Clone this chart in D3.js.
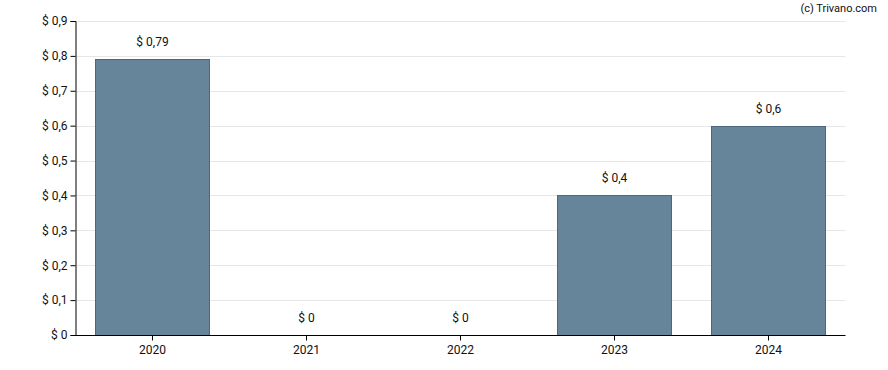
<!DOCTYPE html>
<html><head><meta charset="utf-8">
<script src="https://cdn.jsdelivr.net/npm/d3@7"></script>
<style>body{margin:0;background:#fff;} text{font-family:Roboto,"Noto Sans",sans-serif;}</style>
</head><body><svg id="c" width="888" height="370"></svg>
<script>
const years = ["2020","2021","2022","2023","2024"];
const values = [0.79, 0, 0, 0.4, 0.6];
const yTicks = [0,0.1,0.2,0.3,0.4,0.5,0.6,0.7,0.8,0.9];
const fmt = v => "$ " + String(v).replace(".", ",");

const svg = d3.select("#c");
const m = {l:75.5, r:845.5, t:21, b:335};
const x = d3.scaleBand().domain(years).range([m.l, m.r]).paddingInner(0.26).paddingOuter(0.13);
const y = d3.scaleLinear().domain([0,0.9]).range([m.b, m.t]);

svg.append("g").selectAll("line").data(yTicks.slice(1)).join("line")
  .attr("x1", m.l).attr("x2", m.r).attr("y1", d=>Math.round(y(d))+0.5).attr("y2", d=>Math.round(y(d))+0.5)
  .attr("stroke", "#e6e6e6").attr("stroke-width",1);

svg.append("g").selectAll("rect").data(values).join("rect")
  .attr("x", (d,i)=>Math.floor(x(years[i]))+0.5).attr("width", Math.round(x.bandwidth()))
  .attr("y", d=>Math.round(y(d))+0.5).attr("height", d=>Math.max(0, Math.round(y(0))-Math.round(y(d))))
  .attr("fill", "#66849a").attr("stroke", "#4b6880").attr("stroke-width",1)
  .style("display", d=>d>0?null:"none");

svg.append("g").selectAll("text").data(values).join("text")
  .attr("x", (d,i)=>x(years[i])+x.bandwidth()/2).attr("y", d=>y(d)-13)
  .attr("text-anchor","middle").attr("font-size",12).attr("fill","#111")
  .text(d=>fmt(d));

const ya = svg.append("g").attr("transform",`translate(${m.l},0)`)
  .call(d3.axisLeft(y).tickValues(yTicks).tickSize(5).tickPadding(3).tickFormat(fmt));
ya.select(".domain").attr("stroke","#000");
ya.selectAll(".tick line").attr("stroke","#000");
ya.selectAll("text").attr("font-size",12).attr("fill","#111").attr("font-family","Roboto");

const xa = svg.append("g").attr("transform",`translate(0,${m.b+0.5})`)
  .call(d3.axisBottom(x).tickSize(5).tickPadding(5));
xa.select(".domain").attr("stroke","#000").attr("d", `M${m.l},0H${m.r}`);
xa.selectAll(".tick line").attr("stroke","#000");
xa.selectAll("text").attr("font-size",12).attr("fill","#111").attr("font-family","Roboto");

svg.append("text").attr("x",877).attr("y",12).attr("text-anchor","end")
  .attr("font-size",11).attr("fill","#111").text("(c) Trivano.com");
</script></body></html>
